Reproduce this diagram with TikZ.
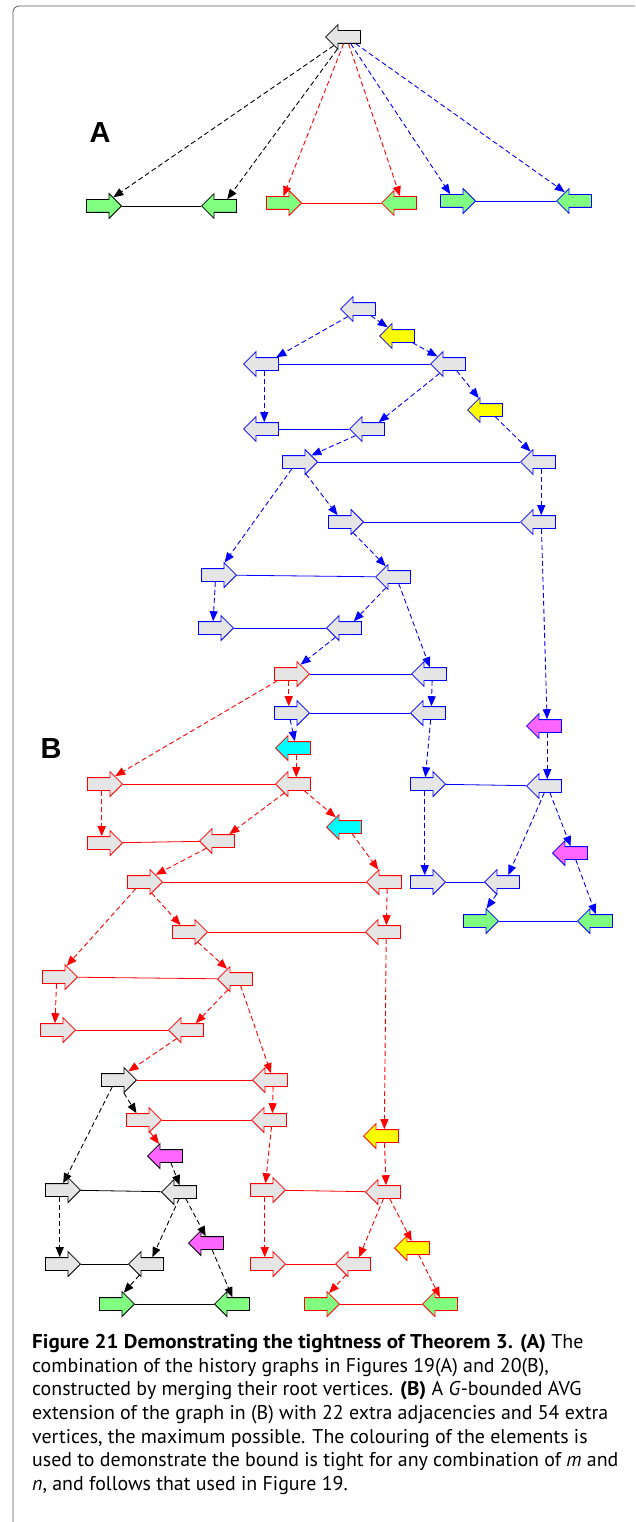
\documentclass[tikz,border=0pt]{standalone}
\usepackage{fontspec}
\setmainfont{PT Sans}[BoldFeatures={FakeStretch=1.06}]
\newfontfamily\lblfont{Liberation Sans}
\usetikzlibrary{shapes.arrows,arrows.meta}

\definecolor{vgrey}{RGB}{229,229,229}
\definecolor{vgreen}{RGB}{128,255,128}
\definecolor{vyellow}{RGB}{255,255,0}
\definecolor{vcyan}{RGB}{0,255,255}
\definecolor{vmagenta}{RGB}{255,102,255}
\definecolor{framegrey}{RGB}{90,90,90}

\tikzset{
  vx/.style={single arrow, draw=#1, line width=0.8pt, minimum height=35pt,
    inner xsep=0pt, inner ysep=6pt, single arrow head extend=6pt, anchor=tip},
  rv/.style={vx=#1},
  lv/.style={vx=#1, shape border rotate=180},
  gy/.style={fill=vgrey},
  gn/.style={fill=vgreen},
  yl/.style={fill=vyellow},
  cy/.style={fill=vcyan},
  mg/.style={fill=vmagenta},
  adj/.style={draw=#1, line width=0.8pt},
  sub/.style={draw=#1, line width=0.9pt, dash pattern=on 5pt off 3pt,
    -{Triangle[length=10pt,width=8pt]}},
  lbl/.style={font=\lblfont\bfseries\fontsize{29}{29}\selectfont, inner sep=0pt},
}

\begin{document}
\begin{tikzpicture}[x=1pt,y=-1pt]
  \useasboundingbox (0,0) rectangle (635,1522);
  \draw[framegrey, line width=0.8pt, rounded corners=6pt] (13,1522) -- (13,6) -- (635,6);

  %%%%% A %%%%%
  \node[lbl] (la) at (100,133) {A};
  \node[lv=black, gy] (root) at (325,37) {};
  \node[rv=black, gn] (a1) at (122,206) {};
  \node[lv=black, gn] (a2) at (201,206) {};
  \node[rv=red, gn] (a3) at (302,203) {};
  \node[lv=red, gn] (a4) at (381,203) {};
  \node[rv=blue, gn] (a5) at (476,201) {};
  \node[lv=blue, gn] (a6) at (556,201) {};

  \draw[adj=black] (a1) -- (a2);
  \draw[adj=red] (a3) -- (a4);
  \draw[adj=blue] (a5) -- (a6);
  \draw[sub=black] (root) -- (a1);
  \draw[sub=black] (root) -- (a2);
  \draw[sub=red] (root) -- (a3);
  \draw[sub=red] (root) -- (a4);
  \draw[sub=blue] (root) -- (a5);
  \draw[sub=blue] (root) -- (a6);

  %%%%% B %%%%%
  \node[lbl] (lb) at (51,749) {B};

  % blue part
  \node[lv=blue, gy] (b1) at (340,309) {};
  \node[lv=blue, yl] (y1) at (379,336) {};
  \node[lv=blue, gy] (b2a) at (243,364) {};
  \node[lv=blue, gy] (b2b) at (430,364) {};
  \node[lv=blue, yl] (y2) at (467,410) {};
  \node[lv=blue, gy] (b3a) at (243,429) {};
  \node[lv=blue, gy] (b3b) at (349,429) {};
  \node[rv=blue, gy] (b4a) at (318,462) {};
  \node[lv=blue, gy] (b4b) at (520,462) {};
  \node[rv=blue, gy] (b5a) at (364,522) {};
  \node[lv=blue, gy] (b5b) at (520,522) {};
  \node[rv=blue, gy] (b6a) at (237,575) {};
  \node[lv=blue, gy] (b6b) at (375,577) {};
  \node[rv=blue, gy] (b7a) at (234,628) {};
  \node[lv=blue, gy] (b7b) at (326,628) {};
  \node[rv=red, gy] (r1a) at (310,674) {};
  \node[lv=blue, gy] (b8b) at (411,674) {};
  \node[rv=blue, gy] (b9a) at (310,713) {};
  \node[lv=blue, gy] (b9b) at (410,713) {};
  \node[lv=red, cy] (c1) at (275,748) {};
  \node[lv=blue, mg] (m1) at (526,726) {};
  \node[rv=blue, gy] (b10a) at (446,784) {};
  \node[lv=blue, gy] (b10b) at (526,786) {};
  \node[lv=blue, mg] (m2) at (552,853) {};
  \node[rv=blue, gy] (b11a) at (446,882) {};
  \node[lv=blue, gy] (b11b) at (484,882) {};
  \node[rv=blue, gn] (gb1) at (499,921) {};
  \node[lv=blue, gn] (gb2) at (577,921) {};

  % red part
  \node[rv=red, gy] (r2a) at (123,784) {};
  \node[lv=red, gy] (r2b) at (275,784) {};
  \node[rv=red, gy] (r3a) at (123,843) {};
  \node[lv=red, gy] (r3b) at (199,841) {};
  \node[lv=red, cy] (c2) at (326,827) {};
  \node[rv=red, gy] (r4a) at (163,882) {};
  \node[lv=red, gy] (r4b) at (366,882) {};
  \node[rv=red, gy] (r5a) at (208,932) {};
  \node[lv=red, gy] (r5b) at (365,932) {};
  \node[rv=red, gy] (r6a) at (78,977) {};
  \node[lv=red, gy] (r6b) at (217,979) {};
  \node[rv=red, gy] (r7a) at (76,1030) {};
  \node[lv=red, gy] (r7b) at (168,1030) {};
  \node[lv=red, gy] (r8b) at (252,1080) {};
  \node[rv=red, gy] (r9a) at (162,1120) {};
  \node[lv=red, gy] (r9b) at (251,1120) {};
  \node[lv=red, yl] (y3) at (363,1136) {};
  \node[rv=red, gy] (r10a) at (286,1190) {};
  \node[lv=red, gy] (r10b) at (365,1192) {};
  \node[lv=red, yl] (y4) at (394,1248) {};
  \node[rv=red, gy] (r11a) at (286,1264) {};
  \node[lv=red, gy] (r11b) at (335,1264) {};
  \node[rv=red, gn] (gr1) at (340,1304) {};
  \node[lv=red, gn] (gr2) at (422,1304) {};

  % black part
  \node[rv=black, gy] (k1a) at (137,1080) {};
  \node[lv=black, mg] (m3) at (147,1156) {};
  \node[rv=black, gy] (k2a) at (81,1190) {};
  \node[lv=black, gy] (k2b) at (161,1192) {};
  \node[lv=black, mg] (m4) at (188,1243) {};
  \node[rv=black, gy] (k3a) at (81,1264) {};
  \node[lv=black, gy] (k3b) at (128,1264) {};
  \node[rv=black, gn] (gk1) at (135,1304) {};
  \node[lv=black, gn] (gk2) at (214,1304) {};

  % adjacencies
  \draw[adj=blue] (b2a) -- (b2b);
  \draw[adj=blue] (b3a) -- (b3b);
  \draw[adj=blue] (b4a) -- (b4b);
  \draw[adj=blue] (b5a) -- (b5b);
  \draw[adj=blue] (b6a) -- (b6b);
  \draw[adj=blue] (b7a) -- (b7b);
  \draw[adj=blue] (r1a) -- (b8b);
  \draw[adj=blue] (b9a) -- (b9b);
  \draw[adj=blue] (b10a) -- (b10b);
  \draw[adj=blue] (b11a) -- (b11b);
  \draw[adj=blue] (gb1) -- (gb2);
  \draw[adj=red] (r2a) -- (r2b);
  \draw[adj=red] (r3a) -- (r3b);
  \draw[adj=red] (r4a) -- (r4b);
  \draw[adj=red] (r5a) -- (r5b);
  \draw[adj=red] (r6a) -- (r6b);
  \draw[adj=red] (r7a) -- (r7b);
  \draw[adj=red] (k1a) -- (r8b);
  \draw[adj=red] (r9a) -- (r9b);
  \draw[adj=red] (r10a) -- (r10b);
  \draw[adj=red] (r11a) -- (r11b);
  \draw[adj=red] (gr1) -- (gr2);
  \draw[adj=black] (k2a) -- (k2b);
  \draw[adj=black] (k3a) -- (k3b);
  \draw[adj=black] (gk1) -- (gk2);

  % blue dashed
  \draw[sub=blue] (b1) -- (b2a);
  \draw[sub=blue] (b1) -- (y1);
  \draw[sub=blue] (y1) -- (b2b);
  \draw[sub=blue] (b2a) -- (b3a);
  \draw[sub=blue] (b2b) -- (b3b);
  \draw[sub=blue] (b2b) -- (y2);
  \draw[sub=blue] (y2) -- (b4b);
  \draw[sub=blue] (b3b) -- (b4a);
  \draw[sub=blue] (b4a) -- (b5a);
  \draw[sub=blue] (b4b) -- (b5b);
  \draw[sub=blue] (b4a) -- (b6a);
  \draw[sub=blue] (b5a) -- (b6b);
  \draw[sub=blue] (b6a) -- (b7a);
  \draw[sub=blue] (b6b) -- (b7b);
  \draw[sub=blue] (b6b) -- (b8b);
  \draw[sub=blue] (b7b) -- (r1a);
  \draw[sub=blue] (b8b) -- (b9b);
  \draw[sub=blue] (b9a) -- (c1);
  \draw[sub=blue] (b9b) -- (b10a);
  \draw[sub=blue] (b5b) -- (m1);
  \draw[sub=blue] (m1) -- (b10b);
  \draw[sub=blue] (b10a) -- (b11a);
  \draw[sub=blue] (b10b) -- (b11b);
  \draw[sub=blue] (b10b) -- (m2);
  \draw[sub=blue] (m2) -- (gb2);
  \draw[sub=blue] (b11b) -- (gb1);

  % red dashed
  \draw[sub=red] (r1a) -- (b9a);
  \draw[sub=red] (c1) -- (r2b);
  \draw[sub=red] (r1a) -- (r2a);
  \draw[sub=red] (r2a) -- (r3a);
  \draw[sub=red] (r2b) -- (r3b);
  \draw[sub=red] (r2b) -- (c2);
  \draw[sub=red] (c2) -- (r4b);
  \draw[sub=red] (r3b) -- (r4a);
  \draw[sub=red] (r4a) -- (r5a);
  \draw[sub=red] (r4a) -- (r6a);
  \draw[sub=red] (r4b) -- (r5b);
  \draw[sub=red] (r5b) -- (y3);
  \draw[sub=red] (r5a) -- (r6b);
  \draw[sub=red] (r6a) -- (r7a);
  \draw[sub=red] (r6b) -- (r7b);
  \draw[sub=red] (r6b) -- (r8b);
  \draw[sub=red] (r7b) -- (k1a);
  \draw[sub=red] (r8b) -- (r9b);
  \draw[sub=red] (r9a) -- (m3);
  \draw[sub=red] (r9b) -- (r10a);
  \draw[sub=red] (y3) -- (r10b);
  \draw[sub=red] (r10a) -- (r11a);
  \draw[sub=red] (r10b) -- (r11b);
  \draw[sub=red] (r10b) -- (y4);
  \draw[sub=red] (y4) -- (gr2);
  \draw[sub=red] (r11b) -- (gr1);

  % black dashed
  \draw[sub=black] (k1a) -- (k2a);
  \draw[sub=black] (k1a) -- (r9a);
  \draw[sub=black] (m3) -- (k2b);
  \draw[sub=black] (k2a) -- (k3a);
  \draw[sub=black] (k2b) -- (k3b);
  \draw[sub=black] (k2b) -- (m4);
  \draw[sub=black] (m4) -- (gk2);
  \draw[sub=black] (k3b) -- (gk1);

  %%%%% caption %%%%%
  \node[anchor=north west, inner sep=0pt, align=left,
    font=\fontsize{19.9}{23.7}\selectfont] (cap) at (32,1334)
    {\textbf{Figure 21 Demonstrating the tightness of Theorem 3. (A)} The\\
     combination of the history graphs in Figures 19(A) and 20(B),\\
     constructed by merging their root vertices. \textbf{(B)} A \textit{G}-bounded AVG\\
     extension of the graph in (B) with 22 extra adjacencies and 54 extra\\
     vertices, the maximum possible. The colouring of the elements is\\
     used to demonstrate the bound is tight for any combination of \textit{m} and\\
     \textit{n}, and follows that used in Figure 19.};
\end{tikzpicture}
\end{document}
